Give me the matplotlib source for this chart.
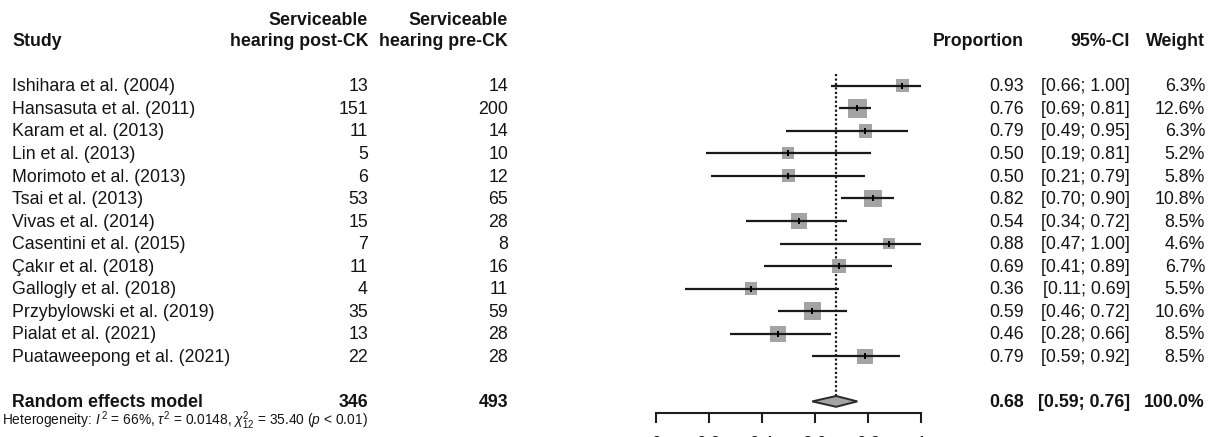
import matplotlib
matplotlib.use("Agg")
import matplotlib.pyplot as plt
from matplotlib import transforms
import numpy as np

plt.rcParams['font.family'] = ['Liberation Sans', 'DejaVu Sans']
plt.rcParams['mathtext.fontset'] = 'custom'
plt.rcParams['mathtext.rm'] = 'Liberation Sans'
plt.rcParams['mathtext.it'] = 'Liberation Sans:italic'
plt.rcParams['mathtext.bf'] = 'Liberation Sans:bold'

# ---------------- data ----------------
studies = ["Ishihara et al. (2004)", "Hansasuta et al. (2011)", "Karam et al. (2013)",
           "Lin et al. (2013)", "Morimoto et al. (2013)", "Tsai et al. (2013)",
           "Vivas et al. (2014)", "Casentini et al. (2015)", "Çakır et al. (2018)",
           "Gallogly et al. (2018)", "Przybylowski et al. (2019)", "Pialat et al. (2021)",
           "Puataweepong et al. (2021)"]
post_ck = [13, 151, 11, 5, 6, 53, 15, 7, 11, 4, 35, 13, 22]
pre_ck = [14, 200, 14, 10, 12, 65, 28, 8, 16, 11, 59, 28, 28]
proportion = [0.93, 0.76, 0.79, 0.50, 0.50, 0.82, 0.54, 0.88, 0.69, 0.36, 0.59, 0.46, 0.79]
ci_low = [0.66, 0.69, 0.49, 0.19, 0.21, 0.70, 0.34, 0.47, 0.41, 0.11, 0.46, 0.28, 0.59]
ci_high = [1.00, 0.81, 0.95, 0.81, 0.79, 0.90, 0.72, 1.00, 0.89, 0.69, 0.72, 0.66, 0.92]
weights = [6.3, 12.6, 6.3, 5.2, 5.8, 10.8, 8.5, 4.6, 6.7, 5.5, 10.6, 8.5, 8.5]

model_label = "Random effects model"
model_post = 346
model_pre = 493
model_est = 0.68
model_low = 0.59
model_high = 0.76
model_weight = 100.0
heterogeneity = (r"Heterogeneity: $\mathit{I}^{\,2}$ = 66%, $\tau^{2}$ = 0.0148, "
                 r"$\chi^{2}_{12}$ = 35.40 ($\mathit{p}$ < 0.01)")

xticks = [0, 0.2, 0.4, 0.6, 0.8, 1]
xticklabels = ["0", "0.2", "0.4", "0.6", "0.8", "1"]

# ---------------- layout ----------------
W, H = 1216, 437
fig = plt.figure(figsize=(W / 100, H / 100), dpi=100)

ax_left, ax_right = 655.7, 921.0
ax_bottom_px = 412.7
ax = fig.add_axes([ax_left / W, (H - ax_bottom_px) / H, (ax_right - ax_left) / W, ax_bottom_px / H])
row0_px, row_step = 85.7, 22.55
ax.set_xlim(0, 1)
ax.set_ylim((ax_bottom_px - row0_px) / row_step, (0 - row0_px) / row_step)
ax.patch.set_alpha(0)
for s in ['top', 'left', 'right']:
    ax.spines[s].set_visible(False)
ax.spines['bottom'].set_linewidth(1.5)
ax.spines['bottom'].set_color('#1e1e1e')
ax.set_yticks([])
ax.set_xticks(xticks)
ax.set_xticklabels(xticklabels)
ax.tick_params(axis='x', direction='out', length=7.2, width=1.5, color='#1e1e1e',
               pad=9.5, labelsize=12.5, labelcolor='#161616')

FS = 12.8
TXT = '#141414'
SQ = '#a4a4a4'
LN = '#1a1a1a'

n = len(studies)
rows = np.arange(n)
model_row = n + 1

# squares, confidence intervals, point ticks
side_px = 5.35 * np.sqrt(np.array(weights))
ax.scatter(proportion, rows, s=(side_px * 0.72) ** 2, marker='s', color=SQ,
           linewidths=0, zorder=2)
ax.hlines(rows, ci_low, ci_high, color=LN, lw=1.6, zorder=3)
ax.scatter(proportion, rows, s=(5.0) ** 2, marker='|', color='#000000', linewidths=1.4, zorder=4)

# summary diamond and reference line
dh = 0.24
ax.fill([model_low, model_est, model_high, model_est],
        [model_row, model_row - dh, model_row, model_row + dh],
        facecolor=SQ, edgecolor='#2a2a2a', lw=1.4, zorder=3)
ax.vlines(model_est, -0.5, model_row - dh, colors='#1e1e1e', linestyles=(0, (1.0, 1.0)),
          lw=1.6, zorder=1)

# text columns (x in figure pixels, y in row units)
tr = transforms.blended_transform_factory(
    transforms.Affine2D().scale(1.0 / W, 1.0) + fig.transFigure, ax.transData)

x_study, x_post, x_pre = 12, 368, 508
x_prop, x_ci, x_w = 1024, 1130, 1205

def put(x, y, s, ha='left', bold=False, size=FS):
    fig.text(x, y, s, transform=tr, ha=ha, va='center', fontsize=size,
             fontweight='bold' if bold else 'normal', color=TXT)

# headers
hy1, hy2 = -2.9, -1.95
put(x_study, hy2, "Study", bold=True)
put(x_post, hy1, "Serviceable", ha='right', bold=True)
put(x_post, hy2, "hearing post-CK", ha='right', bold=True)
put(x_pre, hy1, "Serviceable", ha='right', bold=True)
put(x_pre, hy2, "hearing pre-CK", ha='right', bold=True)
put(x_prop, hy2, "Proportion", ha='right', bold=True)
put(x_ci, hy2, "95%-CI", ha='right', bold=True)
put(x_w, hy2, "Weight", ha='right', bold=True)

for i in range(n):
    y = rows[i] + 0.05
    put(x_study, y, studies[i])
    put(x_post, y, str(post_ck[i]), ha='right')
    put(x_pre, y, str(pre_ck[i]), ha='right')
    put(x_prop, y, f"{proportion[i]:.2f}", ha='right')
    put(x_ci, y, f"[{ci_low[i]:.2f}; {ci_high[i]:.2f}]", ha='right')
    put(x_w, y, f"{weights[i]:.1f}%", ha='right')

my = model_row + 0.05
put(x_study, my, model_label, bold=True)
put(x_post, my, str(model_post), ha='right', bold=True)
put(x_pre, my, str(model_pre), ha='right', bold=True)
put(x_prop, my, f"{model_est:.2f}", ha='right', bold=True)
put(x_ci, my, f"[{model_low:.2f}; {model_high:.2f}]", ha='right', bold=True)
put(x_w, my, f"{model_weight:.1f}%", ha='right', bold=True)

put(2, model_row + 0.86, heterogeneity, size=9.9)

fig.savefig("out.png", dpi=100)
